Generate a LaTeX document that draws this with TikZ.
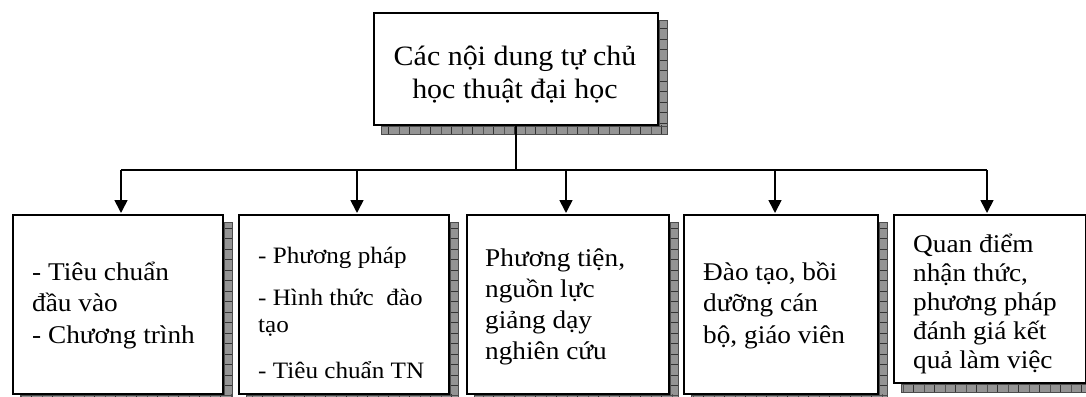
\documentclass[tikz,border=0pt]{standalone}
\usepackage{fontspec}
\setmainfont{Liberation Serif}[FakeStretch=1.07]
\usetikzlibrary{arrows.meta,patterns}
\pgfdeclarelayer{background}
\pgfsetlayers{background,main}
\pgfdeclarepatternformonly{hticks}{\pgfqpoint{0pt}{-0.5pt}}{\pgfqpoint{11pt}{0.5pt}}{\pgfqpoint{11pt}{10.5pt}}{\pgfsetlinewidth{0.8pt}\pgfpathmoveto{\pgfqpoint{0pt}{0pt}}\pgfpathlineto{\pgfqpoint{11pt}{0pt}}\pgfusepath{stroke}}
\pgfdeclarepatternformonly{vticks}{\pgfqpoint{-0.5pt}{0pt}}{\pgfqpoint{0.5pt}{11pt}}{\pgfqpoint{10.5pt}{11pt}}{\pgfsetlinewidth{0.8pt}\pgfpathmoveto{\pgfqpoint{0pt}{0pt}}\pgfpathlineto{\pgfqpoint{0pt}{11pt}}\pgfusepath{stroke}}
\newcommand\lstack[1]{\vtop{\halign{##\hfil\cr#1\crcr}}}
\newcommand\cstack[1]{\vtop{\halign{\hfil##\hfil\cr#1\crcr}}}
\tikzset{
  boxnode/.style={draw=black, fill=white, line width=1.8pt, inner sep=0pt, anchor=north west},
  txt/.style={inner sep=0pt, anchor=base west},
  shadowfill/.style={preaction={fill=black!42}, draw=black!70, line width=0.6pt, pattern color=black!80},
  conn/.style={line width=1.7pt},
  arr/.style={line width=1.7pt, -{Triangle[width=13pt,length=13pt]}},
}
\newcommand\dropshadow[1]{%
  \path[shadowfill, pattern=hticks] ([yshift=-8pt]#1.north east) rectangle ([xshift=8pt,yshift=-8pt]#1.south east);
  \path[shadowfill, pattern=vticks] ([xshift=8pt]#1.south west) rectangle ([xshift=8pt,yshift=-8pt]#1.south east);
}
\begin{document}
\begin{tikzpicture}[x=1pt, y=-1pt]
\useasboundingbox (0,0) rectangle (1086,396);
% boxes
\node[boxnode, minimum width=284pt, minimum height=112pt] (top) at (373,12) {};
\node[boxnode, minimum width=210pt, minimum height=179pt] (b1) at (12,214) {};
\node[boxnode, minimum width=210pt, minimum height=179pt] (b2) at (238,214) {};
\node[boxnode, minimum width=202pt, minimum height=179pt] (b3) at (466,214) {};
\node[boxnode, minimum width=194pt, minimum height=179pt] (b4) at (683,214) {};
\node[boxnode, minimum width=192pt, minimum height=168pt] (b5) at (893,214) {};
\begin{pgfonlayer}{background}
  \dropshadow{top}
  \dropshadow{b1}
  \dropshadow{b2}
  \dropshadow{b3}
  \dropshadow{b4}
  \dropshadow{b5}
\end{pgfonlayer}
% texts
\node[txt, anchor=base, font=\fontsize{28}{33}\selectfont] (t0) at (515,65) {\cstack{Các nội dung tự chủ\cr học thuật đại học}};
\node[txt, font=\fontsize{25.5}{31.5}\selectfont] (t1) at (32,280) {\lstack{- Tiêu chuẩn\cr đầu vào\cr - Chương trình}};
\node[txt, font=\fontsize{23.5}{27}\selectfont] (t2) at (258,263) {\lstack{- Phương pháp\cr\noalign{\vskip 15pt}- Hình thức~ đào\cr tạo\cr\noalign{\vskip 19pt}- Tiêu chuẩn TN}};
\node[txt, font=\fontsize{25.5}{31}\selectfont] (t3) at (485,266) {\lstack{Phương tiện,\cr nguồn lực\cr giảng dạy\cr nghiên cứu}};
\node[txt, font=\fontsize{25.5}{31.5}\selectfont] (t4) at (703,280) {\lstack{Đào tạo, bồi\cr dưỡng cán\cr bộ, giáo viên}};
\node[txt, font=\fontsize{25.5}{29}\selectfont] (t5) at (913,252) {\lstack{Quan điểm\cr nhận thức,\cr phương pháp\cr đánh giá kết\cr quả làm việc}};
% connectors
\coordinate (j1) at (121,170);
\coordinate (j2) at (357,170);
\coordinate (j3) at (566,170);
\coordinate (j4) at (775,170);
\coordinate (j5) at (987,170);
\draw[conn] (top.south) -- (top.south |- j1);
\draw[conn] (j1) -- (j5);
\draw[arr] (j1) -- ([yshift=1pt]j1 |- b1.north);
\draw[arr] (j2) -- ([yshift=1pt]j2 |- b2.north);
\draw[arr] (j3) -- ([yshift=1pt]j3 |- b3.north);
\draw[arr] (j4) -- ([yshift=1pt]j4 |- b4.north);
\draw[arr] (j5) -- ([yshift=1pt]j5 |- b5.north);
\end{tikzpicture}
\end{document}
